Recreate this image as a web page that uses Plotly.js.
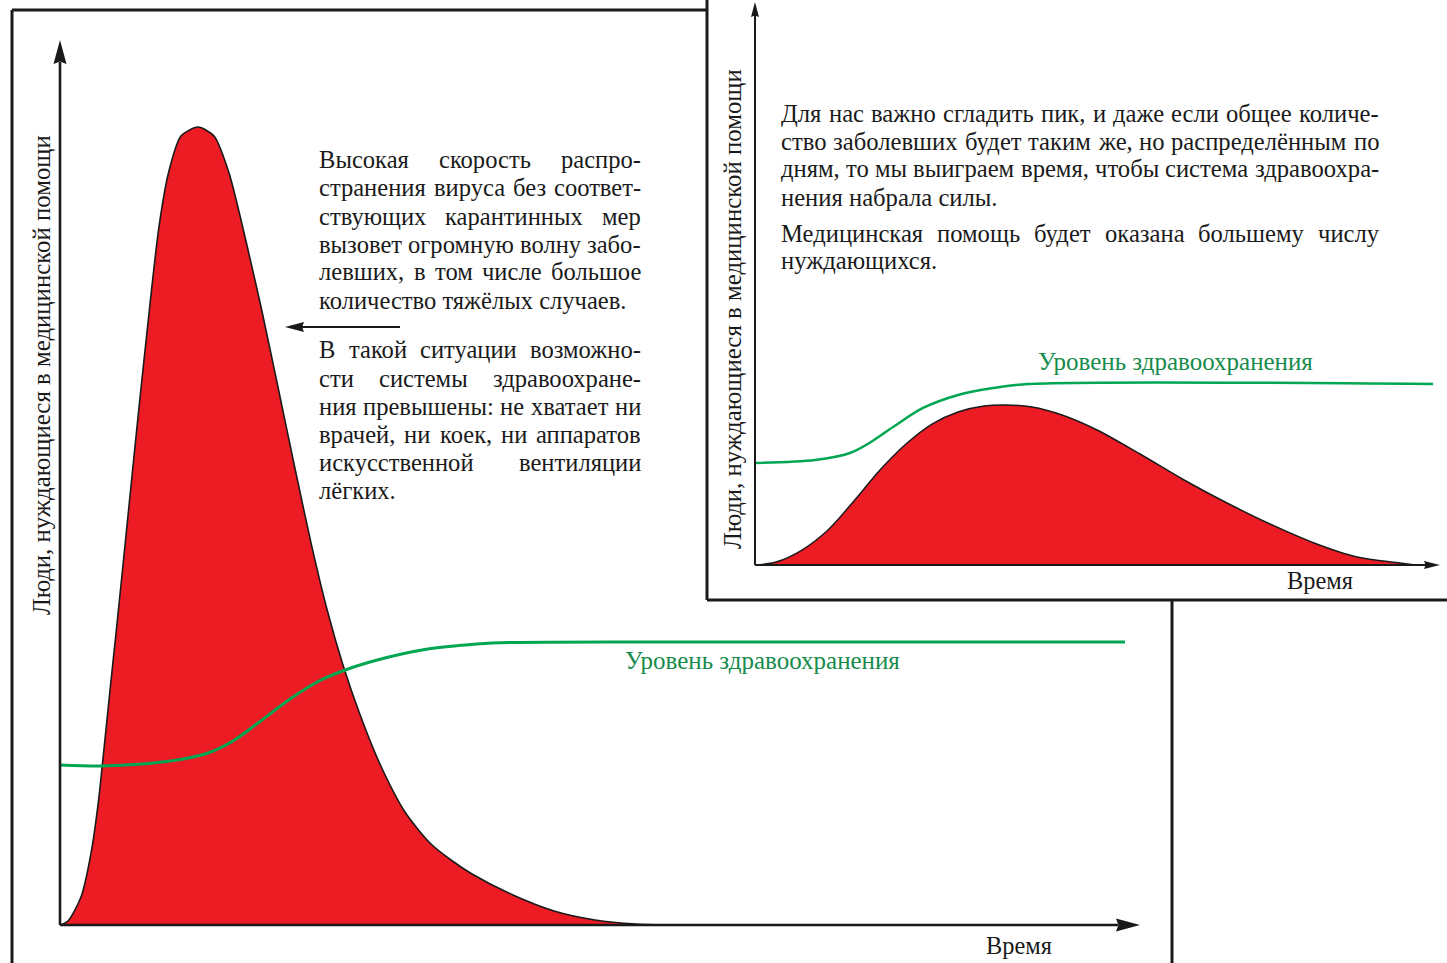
<!DOCTYPE html>
<html>
<head>
<meta charset="utf-8">
<script src="https://cdn.plot.ly/plotly-3.0.1.min.js"></script>
<style>
html,body{margin:0;padding:0;background:#fff;}
#chart{width:1447px;height:963px;}
</style>
</head>
<body>
<div id="chart"></div>
<script>
// ---------------- DATA (arbitrary units 0..100) ----------------
// Main panel: no quarantine — sharp peak
const mainTime  = [0, 0.74, 1.95, 2.88, 3.57, 4.08, 4.68, 5.19, 5.94, 6.68, 7.42, 8.30, 9.14, 10.06, 11.22, 12.80, 14.29, 15.68, 17.25, 18.69, 20.22, 21.75, 23.33, 24.86, 26.25, 27.74, 29.68, 32.00, 34.32, 36.27, 38.22, 42.02, 45.83, 49.63, 53.43, 57.24];
const mainCases = [0, 0.45, 3.17, 8.15, 14.04, 19.93, 27.07, 32.96, 41.90, 50.85, 59.68, 69.76, 78.71, 85.16, 89.35, 90.37, 89.35, 85.16, 77.46, 69.76, 60.93, 51.98, 43.03, 35.33, 29.45, 24.12, 18.23, 12.80, 9.29, 7.36, 5.78, 3.40, 1.59, 0.57, 0.11, 0];
const mainCapTime  = [0, 3.80, 7.61, 11.41, 13.73, 16.05, 18.37, 21.34, 24.03, 26.72, 29.78, 33.58, 36.64, 40.07, 59.83, 98.79];
const mainCapacity = [18.12, 18.01, 18.23, 18.80, 19.48, 20.84, 22.88, 25.59, 27.63, 28.99, 30.12, 31.14, 31.60, 31.94, 32.05, 32.05];

// Inset panel: flattened curve
const insetTime  = [0, 3.07, 6.86, 10.66, 14.45, 18.25, 22.04, 25.84, 29.64, 33.43, 36.64, 40.44, 44.82, 49.93, 56.20, 62.63, 68.91, 75.18, 81.61, 87.88, 94.16, 96.35];
const insetCases = [0, 0.53, 2.66, 6.22, 11.37, 16.87, 21.49, 25.04, 27.18, 28.24, 28.42, 28.06, 26.64, 23.98, 19.72, 15.10, 11.01, 7.28, 3.91, 1.42, 0.36, 0];
const insetCapTime  = [0, 8.76, 13.87, 16.93, 20.15, 24.53, 29.64, 34.74, 39.85, 98.98];
const insetCapacity = [18.12, 18.65, 19.89, 21.85, 24.51, 27.89, 30.20, 31.44, 32.15, 32.15];

// Texts
const yLabel = 'Люди, нуждающиеся в медицинской помощи';
const xLabel = 'Время';
const capacityLabel = 'Уровень здравоохранения';
const mainParagraphs = [
  ['Высокая скорость распро-',
   'странения вируса без соответ-',
   'ствующих карантинных мер',
   'вызовет огромную волну забо-',
   'левших, в том числе большое',
   'количество тяжёлых случаев.'],
  ['В такой ситуации возможно-',
   'сти системы здравоохране-',
   'ния превышены: не хватает ни',
   'врачей, ни коек, ни аппаратов',
   'искусственной вентиляции',
   'лёгких.']
];
const insetParagraphs = [
  ['Для нас важно сгладить пик, и даже если общее количе-',
   'ство заболевших будет таким же, но распределённым по',
   'дням, то мы выиграем время, чтобы система здравоохра-',
   'нения набрала силы.'],
  ['Медицинская помощь будет оказана большему числу',
   'нуждающихся.']
];

// ---------------- LAYOUT / STYLE ----------------
const W = 1447, H = 963;
const px = v => v / W;
const py = v => 1 - v / H;
const SERIF = '"Liberation Serif", "Times New Roman", serif';
const INK = '#1a1a1a';
const RED = '#ed1c24';
const GREEN = '#00a651';
const GREEN_TEXT = '#168c4c';

const cnv = document.createElement('canvas').getContext('2d');
function measure(t, size) {
  cnv.font = size + 'px "Liberation Serif"';
  return cnv.measureText(t).width;
}
function fit(t, target) { return target / measure(t, 100) * 100; }

function textAnn(text, x, y, anchor, size, color, angle) {
  return {
    text: text, xref: 'paper', yref: 'paper', x: px(x), y: py(y),
    xanchor: anchor, yanchor: 'middle', showarrow: false,
    textangle: angle || 0, borderpad: 0,
    font: {family: SERIF, size: size, color: color || INK}
  };
}

function justifyBlock(paragraphs, L, R, yStart, lineH, paraGap) {
  let maxW = 0;
  paragraphs.forEach(lines => lines.forEach((ln, i) => {
    if (i < lines.length - 1) maxW = Math.max(maxW, measure(ln, 100));
  }));
  const size = (R - L) / maxW * 100;
  const anns = [];
  let y = yStart;
  paragraphs.forEach(lines => {
    lines.forEach((line, li) => {
      const words = line.split(' ');
      if (li === lines.length - 1 || words.length === 1) {
        anns.push(textAnn(line, L, y, 'left', size));
      } else {
        const widths = words.map(w => measure(w, size));
        const sum = widths.reduce((a, b) => a + b, 0);
        const gap = Math.max((R - L - sum) / (words.length - 1), measure(' ', size) * 0.8);
        let x = L;
        words.forEach((w, i) => {
          anns.push(textAnn(w, x, y, 'left', size));
          x += widths[i] + gap;
        });
      }
      y += lineH;
    });
    y += paraGap;
  });
  return anns;
}

function arrowHead(dir, x, y, len, half, notch) {
  let p;
  const n = len * (notch || 0.9);
  if (dir === 'up') {
    p = [[x, y], [x - half, y + len], [x, y + n], [x + half, y + len]];
  } else if (dir === 'right') {
    p = [[x, y], [x - len, y - half], [x - n, y], [x - len, y + half]];
  } else {
    p = [[x, y], [x + len, y - half], [x + n, y], [x + len, y + half]];
  }
  const path = 'M ' + p.map(q => px(q[0]).toFixed(5) + ' ' + py(q[1]).toFixed(5)).join(' L ') + ' Z';
  return {type: 'path', xref: 'paper', yref: 'paper', path: path, fillcolor: INK,
          line: {width: 0, color: 'rgba(0,0,0,0)'}, layer: 'above'};
}
function seg(x0, y0, x1, y1, w, color) {
  return {type: 'line', xref: 'paper', yref: 'paper', x0: px(x0), y0: py(y0), x1: px(x1), y1: py(y1),
          line: {color: color || INK, width: w}, layer: 'above'};
}

// Axis geometry (picture pixels)
const M = {x0: 60, y0: 925, xEnd: 1138, yEnd: 42};
const S = {x0: 755, y0: 565, xEnd: 1440, yEnd: 2};

const shapes = [
  seg(12, 10, 707, 10, 3), seg(12, 10, 12, 975, 3), seg(1172, 600, 1172, 975, 3),
  seg(707, -10, 707, 600, 3), seg(707, 600, 1460, 600, 3),
  seg(M.x0, M.y0, M.x0, M.yEnd + 20, 2.6), arrowHead('up', M.x0, M.yEnd - 2, 24, 6.5),
  seg(M.x0, M.y0, M.xEnd - 20, M.y0, 2.6), arrowHead('right', M.xEnd + 2, M.y0, 24, 6.5),
  seg(S.x0, S.y0, S.x0, S.yEnd + 12, 2), arrowHead('up', S.x0, S.yEnd, 15, 4),
  seg(S.x0, S.y0, S.xEnd - 12, S.y0, 2), arrowHead('right', S.xEnd, S.y0, 16, 4),
  seg(302, 327, 400, 327, 2.2), arrowHead('left', 285, 327, 19, 5)
];

const labelSize = fit(yLabel, 480);
const annotations = [
  textAnn(yLabel, 42, 375, 'center', labelSize, INK, -90),
  textAnn(yLabel, 733, 309, 'center', labelSize, INK, -90),
  textAnn(xLabel, 1019, 945, 'center', fit(xLabel, 66)),
  textAnn(xLabel, 1320, 580, 'center', fit(xLabel, 66)),
  textAnn(capacityLabel, 762, 660, 'center', fit(capacityLabel, 275), GREEN_TEXT),
  textAnn(capacityLabel, 1175, 362, 'center', fit(capacityLabel, 275), GREEN_TEXT)
].concat(justifyBlock(mainParagraphs, 318, 640, 160, 28, 22))
 .concat(justifyBlock(insetParagraphs, 780, 1378, 113, 28, 8));

const traces = [
  {x: mainTime, y: mainCases, xaxis: 'x', yaxis: 'y', mode: 'lines', fill: 'tozeroy',
   fillcolor: RED, line: {color: INK, width: 1.6, shape: 'spline', smoothing: 0.7}, hoverinfo: 'skip'},
  {x: mainCapTime, y: mainCapacity, xaxis: 'x', yaxis: 'y', mode: 'lines',
   line: {color: GREEN, width: 3, shape: 'spline', smoothing: 0.9}, hoverinfo: 'skip'},
  {x: insetTime, y: insetCases, xaxis: 'x2', yaxis: 'y2', mode: 'lines', fill: 'tozeroy',
   fillcolor: RED, line: {color: INK, width: 1.5, shape: 'spline', smoothing: 0.9}, hoverinfo: 'skip'},
  {x: insetCapTime, y: insetCapacity, xaxis: 'x2', yaxis: 'y2', mode: 'lines',
   line: {color: GREEN, width: 2.5, shape: 'spline', smoothing: 0.9}, hoverinfo: 'skip'}
];

const hidden = {range: [0, 100], visible: false, fixedrange: true, showgrid: false, zeroline: false};
const layout = {
  width: W, height: H,
  margin: {l: 0, r: 0, t: 0, b: 0},
  paper_bgcolor: '#ffffff', plot_bgcolor: 'rgba(0,0,0,0)',
  showlegend: false,
  font: {family: SERIF, color: INK},
  xaxis:  Object.assign({}, hidden, {domain: [px(M.x0), px(M.xEnd)], anchor: 'y'}),
  yaxis:  Object.assign({}, hidden, {domain: [py(M.y0), py(M.yEnd)], anchor: 'x'}),
  xaxis2: Object.assign({}, hidden, {domain: [px(S.x0), px(S.xEnd)], anchor: 'y2'}),
  yaxis2: Object.assign({}, hidden, {domain: [py(S.y0), py(S.yEnd)], anchor: 'x2'}),
  shapes: shapes,
  annotations: annotations
};

Plotly.newPlot('chart', traces, layout, {displayModeBar: false, staticPlot: true});
</script>
</body>
</html>
